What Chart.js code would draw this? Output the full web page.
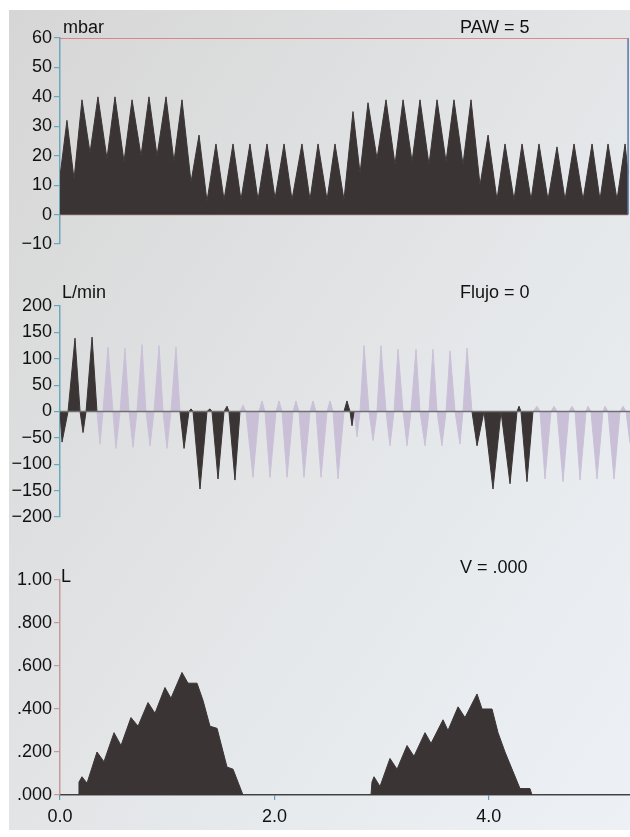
<!DOCTYPE html>
<html>
<head>
<meta charset="utf-8">
<script src="https://cdn.jsdelivr.net/npm/chart.js@4.4.1/dist/chart.umd.min.js"></script>
<style>
  html, body { margin: 0; padding: 0; background: #fff; }
  #wrap { position: relative; width: 630px; height: 837px; overflow: hidden; }
  #paper {
    position: absolute; left: 9px; top: 10px; right: 0; bottom: 7px;
    background: linear-gradient(125deg, #d6d6d6 0%, #dfe0e1 35%, #e6e9ec 65%, #edf1f5 100%);
  }
  canvas { position: absolute; left: 0; }
</style>
</head>
<body>
<div id="wrap">
  <div id="paper"></div>
  <canvas id="paw" width="630" height="260" style="top:0px"></canvas>
  <canvas id="flow" width="630" height="270" style="top:260px"></canvas>
  <canvas id="vol" width="630" height="307" style="top:530px"></canvas>
</div>
<script>
// time axis (s)
const timeMax = 5.317;
const timeTicks = [0, 2, 4];

// airway pressure (mbar)
const pawTicks = [-10, 0, 10, 20, 30, 40, 50, 60];
const pawLimit = 60;
const pawTime = [0, 0.065, 0.131, 0.205, 0.280, 0.354, 0.438, 0.513, 0.597, 0.672, 0.756, 0.830, 0.905, 0.989,
  1.063, 1.138, 1.222, 1.297, 1.371, 1.455, 1.530, 1.614, 1.688, 1.772, 1.847, 1.931, 2.006, 2.090, 2.164,
  2.257, 2.332, 2.407, 2.491, 2.565, 2.649, 2.733, 2.799, 2.873, 2.957, 3.041, 3.125, 3.200, 3.284, 3.358,
  3.442, 3.517, 3.601, 3.675, 3.759, 3.834, 3.918, 3.993, 4.076, 4.151, 4.235, 4.310, 4.394, 4.468, 4.552,
  4.636, 4.711, 4.795, 4.879, 4.963, 5.037, 5.112, 5.196, 5.271, 5.299];
const pawValues = [13, 32, 12, 39, 21, 40, 19, 40, 18, 39, 20, 40, 20, 40,
  18, 39, 11, 27, 4.5, 24, 5, 24, 5, 24, 5, 24, 5.5, 24, 5,
  24, 5, 24, 5, 24, 5, 35, 14, 38, 19, 39, 17, 39, 18, 39,
  17, 39, 18, 39, 17, 39, 10, 27, 5, 24, 5, 24, 5, 24, 5,
  23, 5, 24, 5, 24, 5, 24, 5, 24, 14];

// flow (L/min)
const flowTicks = [-200, -150, -100, -50, 0, 50, 100, 150, 200];
const flowTime = [0, 0.019, 0.075, 0.140, 0.187, 0.215, 0.243, 0.299, 0.345,
  0.373, 0.401, 0.448, 0.494, 0.522, 0.560, 0.606, 0.644, 0.681, 0.718, 0.765, 0.802, 0.840, 0.877, 0.924, 0.961, 0.998, 1.035, 1.082, 1.119,
  1.157, 1.203, 1.222, 1.241, 1.306, 1.371, 1.399, 1.418, 1.474, 1.530, 1.558, 1.576, 1.632, 1.679,
  1.707, 1.735, 1.800, 1.856, 1.884, 1.912, 1.959, 2.015, 2.043, 2.071, 2.118, 2.174, 2.201, 2.229, 2.276, 2.332, 2.360, 2.388, 2.435, 2.491, 2.519, 2.547, 2.593, 2.649,
  2.677, 2.705, 2.724, 2.743,
  2.771, 2.799, 2.836, 2.882, 2.920, 2.957, 2.994, 3.041, 3.078, 3.116, 3.153, 3.200, 3.237, 3.274, 3.321, 3.358, 3.405, 3.442, 3.479, 3.517, 3.563, 3.601, 3.638, 3.685, 3.731, 3.759, 3.797, 3.843,
  3.890, 3.955, 4.039, 4.114, 4.198, 4.263, 4.282, 4.300, 4.356, 4.412,
  4.450, 4.478, 4.524, 4.580, 4.608, 4.636, 4.692, 4.748, 4.776, 4.804, 4.851, 4.907, 4.925, 4.953, 5.009, 5.065, 5.084, 5.112, 5.168, 5.224, 5.252, 5.280, 5.317];
const flowValues = [0, -58, 0, 139, 0, -40, 0, 141, 0,
  -62, 0, 122, 0, -70, 0, 120, 0, -68, 0, 127, 0, -65, 0, 125, 0, -70, 0, 122, 0,
  -70, 0, 5, 0, -147, 0, 5, 0, -128, 0, 10, 0, -130, 0,
  12, 0, -125, 0, 20, 0, -125, 0, 20, 0, -125, 0, 20, 0, -125, 0, 20, 0, -125, 0, 20, 0, -128, 0,
  20, 0, -27, 0,
  -48, 0, 125, 0, -55, 0, 125, 0, -65, 0, 118, 0, -65, 0, 118, 0, -65, 0, 118, 0, -65, 0, 115, 0, -62, 0, 120, 0,
  -65, 0, -147, 0, -137, 0, 10, 0, -133, 0,
  10, 0, -128, 0, 10, 0, -133, 0, 10, 0, -130, 0, 10, 0, -128, 0, 10, 0, -128, 0, 10, 0, -60];
// time spans drawn in black, the rest is shown pale
const flowDarkSpans = [[0, 0.345], [1.119, 1.679], [2.649, 2.743], [3.843, 4.412]];

// volume (L)
const volTicks = [0, 0.2, 0.4, 0.6, 0.8, 1.0];
const volTime = [0, 0.168, 0.177, 0.205, 0.252, 0.345, 0.410, 0.504, 0.569, 0.662, 0.728, 0.821, 0.886, 0.979, 1.035,
  1.138, 1.194, 1.278, 1.334, 1.399, 1.465, 1.558, 1.614, 1.707,
  2.901, 2.910, 2.929, 2.985, 3.078, 3.144, 3.237, 3.302, 3.405, 3.461, 3.573, 3.619, 3.713, 3.778,
  3.890, 3.937, 4.030, 4.086, 4.151, 4.291, 4.384, 4.403, 5.317];
const volValues = [0, 0, 0.06, 0.085, 0.055, 0.20, 0.155, 0.29, 0.23, 0.36, 0.32, 0.43, 0.38, 0.50, 0.45,
  0.57, 0.52, 0.52, 0.44, 0.32, 0.31, 0.13, 0.12, 0,
  0, 0.06, 0.085, 0.04, 0.17, 0.12, 0.23, 0.18, 0.29, 0.24, 0.35, 0.30, 0.41, 0.36,
  0.47, 0.40, 0.40, 0.29, 0.20, 0.03, 0.03, 0, 0];

const FONT = '"Liberation Sans", Arial, Helvetica, sans-serif';
const DARK = '#3a3435';
const PALE = '#c9c0d8';

const pts = (xs, ys) => xs.map((x, i) => ({x: x, y: ys[i]}));
const minus = v => v < 0 ? '\u2212' + Math.abs(v) : String(v);

// unit label top-left, readout top-right
const panelText = {
  id: 'panelText',
  afterDraw(chart, args, opts) {
    const ctx = chart.ctx, a = chart.chartArea;
    ctx.save();
    ctx.font = '18px ' + FONT;
    ctx.fillStyle = '#111';
    ctx.textBaseline = 'alphabetic';
    ctx.fillText(opts.unit, a.left + opts.unitDx, a.top + opts.unitDy);
    ctx.fillText(opts.readout, 460, a.top + opts.readoutDy);
    ctx.restore();
  }
};

function yScale(ticks, fmt, axisColor) {
  return {
    min: ticks[0], max: ticks[ticks.length - 1],
    afterFit: s => { s.width = 60; },
    afterBuildTicks: s => { s.ticks = ticks.map(v => ({value: v})); },
    ticks: { font: {family: FONT, size: 18}, color: '#111', padding: 2, autoSkip: false, callback: fmt },
    grid: { drawOnChartArea: false, tickLength: 6, color: axisColor, lineWidth: 1.2 },
    border: { color: axisColor, width: 1.5 }
  };
}

function xScale(show) {
  return {
    type: 'linear', min: 0, max: timeMax,
    display: show,
    afterFit: s => { if (show) s.height = 36; },
    afterBuildTicks: s => { s.ticks = timeTicks.map(v => ({value: v})); },
    ticks: { font: {family: FONT, size: 18}, color: '#111', padding: 6, autoSkip: false, maxRotation: 0, callback: v => v.toFixed(1) },
    grid: { drawOnChartArea: false, tickLength: 5, color: '#5f9fbf', lineWidth: 1.2 },
    border: { color: '#4a4a4a', width: 1.5 }
  };
}

function baseOptions(pad, scales, text) {
  return {
    responsive: false,
    animation: false,
    layout: { padding: pad },
    elements: { point: { radius: 0 }, line: { tension: 0 } },
    plugins: { legend: { display: false }, tooltip: { enabled: false }, panelText: text },
    scales: scales
  };
}

// pressure
const pawEnd = pawTime[pawTime.length - 1];
new Chart(document.getElementById('paw'), {
  type: 'line',
  data: {
    datasets: [
      { data: [{x: 0, y: pawLimit}, {x: pawEnd, y: pawLimit}], borderColor: '#d96a6a', borderWidth: 1.5, fill: false },
      { data: [{x: pawEnd, y: 0}, {x: pawEnd, y: pawLimit}], borderColor: '#5878a8', borderWidth: 1.5, fill: false },
      { data: pts(pawTime, pawValues), borderColor: DARK, borderWidth: 1, backgroundColor: DARK, fill: 'origin' },
      { data: [{x: 0, y: 0}, {x: pawEnd, y: 0}], borderColor: '#a07070', borderWidth: 1.2, fill: false }
    ]
  },
  options: baseOptions({top: 38, bottom: 16, left: 0, right: 0},
    { x: xScale(false), y: yScale(pawTicks, minus, '#6aa8bf') },
    { unit: 'mbar', readout: 'PAW = 5', unitDx: 3, unitDy: -5, readoutDy: -5 }),
  plugins: [panelText]
});

// flow
const inDark = t => flowDarkSpans.some(([a, b]) => t >= a && t <= b);
const onEdge = t => flowDarkSpans.some(([a, b]) => t === a || t === b);
const flowDark = flowTime.map((t, i) => ({x: t, y: inDark(t) ? flowValues[i] : null}));
const flowPale = flowTime.map((t, i) => ({x: t, y: (!inDark(t) || onEdge(t)) ? flowValues[i] : null}));

new Chart(document.getElementById('flow'), {
  type: 'line',
  data: {
    datasets: [
      { data: [{x: 0, y: 0}, {x: timeMax, y: 0}], borderColor: '#6f6f6f', borderWidth: 1.5, fill: false },
      { data: flowDark, borderColor: DARK, borderWidth: 1, backgroundColor: DARK, fill: 'origin' },
      { data: flowPale, borderColor: PALE, borderWidth: 1, backgroundColor: PALE, fill: 'origin' }
    ]
  },
  options: baseOptions({top: 46, bottom: 13, left: 0, right: 0},
    { x: xScale(false), y: yScale(flowTicks, minus, '#6aa8bf') },
    { unit: 'L/min', readout: 'Flujo = 0', unitDx: 2, unitDy: -8, readoutDy: -8 }),
  plugins: [panelText]
});

// volume
new Chart(document.getElementById('vol'), {
  type: 'line',
  data: {
    datasets: [
      { data: pts(volTime, volValues), borderColor: DARK, borderWidth: 1, backgroundColor: DARK, fill: 'origin' }
    ]
  },
  options: baseOptions({top: 50, bottom: 6, left: 0, right: 0},
    { x: xScale(true), y: yScale(volTicks, v => v === 1 ? '1.00' : v.toFixed(3).slice(1), '#c79a9a') },
    { unit: 'L', readout: 'V = .000', unitDx: 1, unitDy: 2, readoutDy: -7 }),
  plugins: [panelText]
});
</script>
</body>
</html>
